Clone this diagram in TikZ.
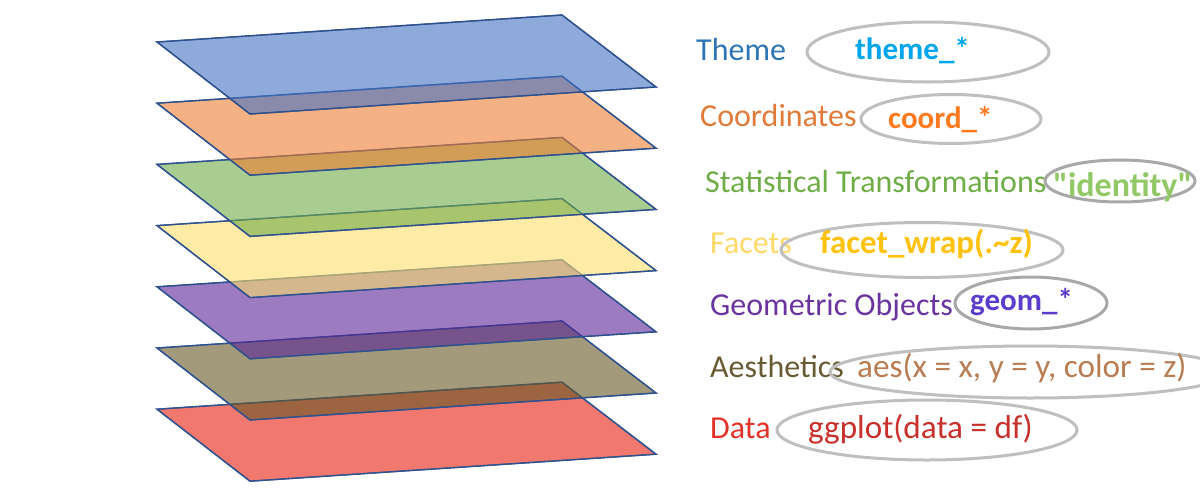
\documentclass[tikz,border=0pt]{standalone}
\usepackage{fontspec}
\setmainfont{Carlito}
\newfontfamily\rawfont{Carlito}[Ligatures=TeXOff]
\usetikzlibrary{shapes.geometric}
\definecolor{edgeblue}{HTML}{2F528F}
\definecolor{pBlue}{HTML}{4472C4}
\definecolor{pOrange}{HTML}{ED7D31}
\definecolor{pGreen}{HTML}{70AD47}
\definecolor{pYellow}{HTML}{FCDF6C}
\definecolor{pPurple}{HTML}{5A2496}
\definecolor{pBrown}{HTML}{665723}
\definecolor{pRed}{HTML}{E61E10}
\definecolor{lTheme}{HTML}{2E75B6}
\definecolor{lCoord}{HTML}{E07B39}
\definecolor{lStat}{HTML}{70AD47}
\definecolor{lFacet}{HTML}{FFD966}
\definecolor{lGeom}{HTML}{6A349E}
\definecolor{lAes}{HTML}{685A32}
\definecolor{lData}{HTML}{E53228}
\definecolor{cTheme}{HTML}{00A6EC}
\definecolor{cCoord}{HTML}{FF7A1F}
\definecolor{cStat}{HTML}{92C966}
\definecolor{cFacet}{HTML}{FFC20E}
\definecolor{cGeom}{HTML}{5B3CCB}
\definecolor{cAes}{HTML}{B97D54}
\definecolor{cData}{HTML}{C9302C}
\definecolor{ovalgray}{HTML}{BFBFBF}
\definecolor{ovaldark}{HTML}{A8A8A8}
\tikzset{
  plane/.style={draw=edgeblue, line width=1.3pt, line join=miter, fill opacity=0.6},
  lbl/.style={anchor=base west, inner sep=0pt, font=\fontsize{32}{36}\selectfont},
  codeb/.style={anchor=base west, inner sep=0pt, font=\fontsize{31}{36}\selectfont\bfseries},
  coder/.style={anchor=base west, inner sep=0pt, font=\fontsize{33.2}{38}\selectfont},
  oval/.style={draw=ovalgray, line width=3pt, ellipse, inner sep=0pt},
}
\newcommand{\layerplane}[2]{%
  \fill[plane, fill=#2] (562,#1) -- ++(-405,27) -- ++(93,72) -- ++(406,-27) -- cycle;
  \draw[draw=edgeblue, line width=1.3pt, line join=miter] (562,#1) -- ++(-405,27) -- ++(93,72) -- ++(406,-27) -- cycle;
}
\begin{document}
\begin{tikzpicture}[x=1pt, y=-1pt]
\useasboundingbox[fill=white] (0,0) rectangle (1200,498);
% planes, bottom first
\layerplane{382.2}{pRed}
\layerplane{321.0}{pBrown}
\layerplane{259.8}{pPurple}
\layerplane{198.6}{pYellow}
\layerplane{137.4}{pGreen}
\layerplane{76.2}{pOrange}
\layerplane{15.0}{pBlue}
% labels
\node[lbl, text=lTheme] (lt) at (696,60) {Theme};
\node[lbl, text=lCoord] (lc) at (700,126) {Coordinates};
\node[lbl, text=lStat] (ls) at (705,192) {Statistical Transformations};
\node[lbl, text=lFacet] (lf) at (710,253) {Facets};
\node[lbl, text=lGeom] (lg) at (710,315) {Geometric Objects};
\node[lbl, text=lAes] (la) at (710,377) {Aesthetics};
\node[lbl, text=lData] (ld) at (710,438) {Data};
% ovals
\node[oval, minimum width=242pt, minimum height=60pt] (ot) at (928,52) {};
\node[oval, minimum width=180pt, minimum height=49pt] (oc) at (951,119) {};
\node[oval, draw=ovaldark, minimum width=150pt, minimum height=42pt] (os) at (1120,181) {};
\node[oval, minimum width=282pt, minimum height=55pt] (of) at (922,250) {};
\node[oval, draw=ovaldark, minimum width=152pt, minimum height=52pt] (og) at (1031,303) {};
\node[oval, minimum width=400pt, minimum height=52pt] (oa) at (1030,372) {};
\node[oval, minimum width=300pt, minimum height=60pt] (od) at (927,430) {};
% code texts
\node[codeb, text=cTheme] (ct) at (855,59) {theme\_*};
\node[codeb, text=cCoord] (cc) at (888,128) {coord\_*};
\node[codeb, text=cStat, font=\fontsize{34}{38}\rawfont\bfseries] (cs) at (1053,196) {"identity"};
\node[codeb, text=cFacet, font=\fontsize{33}{38}\selectfont\bfseries] (cf) at (820,253) {facet\_wrap(.\textasciitilde z)};
\node[codeb, text=cGeom] (cg) at (970,310) {geom\_*};
\node[coder, text=cAes] (ca) at (857,377) {aes(x = x, y = y, color = z)};
\node[coder, text=cData] (cd) at (808,438) {ggplot(data = df)};
\end{tikzpicture}
\end{document}
